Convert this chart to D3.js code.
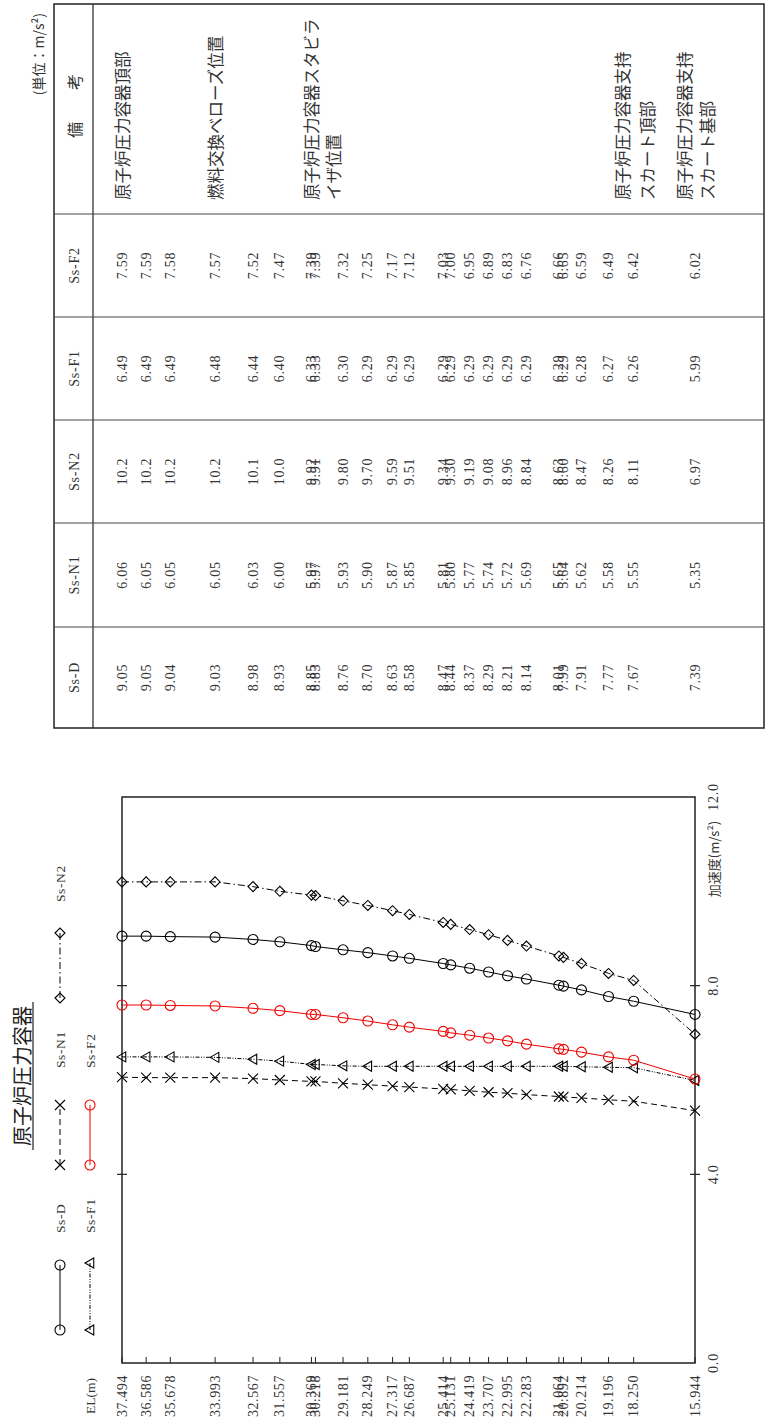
<!DOCTYPE html>
<html><head><meta charset="utf-8">
<script src="https://cdn.jsdelivr.net/npm/d3@7"></script>
<style>body{margin:0;background:#fff}</style>
</head><body>
<svg id="c" width="765" height="1425"></svg>
<script>
// ---------- data ----------
const elevations = [37.494, 36.586, 35.678, 33.993, 32.567, 31.557, 30.369, 30.218, 29.181, 28.249, 27.317, 26.687, 25.414, 25.131, 24.419, 23.707, 22.995, 22.283, 21.064, 20.892, 20.214, 19.196, 18.250, 15.944];
const elLabels = ["37.494","36.586","35.678","33.993","32.567","31.557","30.369","30.218","29.181","28.249","27.317","26.687","25.414","25.131","24.419","23.707","22.995","22.283","21.064","20.892","20.214","19.196","18.250","15.944"];
const seriesNames = ["Ss-D", "Ss-N1", "Ss-N2", "Ss-F1", "Ss-F2"];
const ssD  = [9.05, 9.05, 9.04, 9.03, 8.98, 8.93, 8.85, 8.83, 8.76, 8.70, 8.63, 8.58, 8.47, 8.44, 8.37, 8.29, 8.21, 8.14, 8.01, 7.99, 7.91, 7.77, 7.67, 7.39];
const ssN1 = [6.06, 6.05, 6.05, 6.05, 6.03, 6.00, 5.97, 5.97, 5.93, 5.90, 5.87, 5.85, 5.81, 5.80, 5.77, 5.74, 5.72, 5.69, 5.65, 5.64, 5.62, 5.58, 5.55, 5.35];
const ssN2 = [10.2, 10.2, 10.2, 10.2, 10.1, 10.0, 9.92, 9.91, 9.80, 9.70, 9.59, 9.51, 9.34, 9.30, 9.19, 9.08, 8.96, 8.84, 8.63, 8.60, 8.47, 8.26, 8.11, 6.97];
const ssF1 = [6.49, 6.49, 6.49, 6.48, 6.44, 6.40, 6.33, 6.33, 6.30, 6.29, 6.29, 6.29, 6.29, 6.29, 6.29, 6.29, 6.29, 6.29, 6.29, 6.29, 6.28, 6.27, 6.26, 5.99];
const ssF2 = [7.59, 7.59, 7.58, 7.57, 7.52, 7.47, 7.39, 7.39, 7.32, 7.25, 7.17, 7.12, 7.03, 7.00, 6.95, 6.89, 6.83, 6.76, 6.66, 6.65, 6.59, 6.49, 6.42, 6.02];
const accTicks = [0, 4, 8, 12];
const accTickLabels = ["0.0", "4.0", "8.0", "12.0"];
const remarkEL = [37.494, 33.993, 30.369, 18.250, 15.944];
const remarkText = [["原子炉圧力容器頂部"], ["燃料交換ベローズ位置"], ["原子炉圧力容器スタビラ", "イザ位置"], ["原子炉圧力容器支持", "スカート頂部"], ["原子炉圧力容器支持", "スカート基部"]];
const titleText = "原子炉圧力容器";
const unitText = "(単位：m/s²)";

// ---------- styles ----------
const seriesValues = [ssD, ssN1, ssN2, ssF1, ssF2];
const styles = {
  "Ss-D":  {color: "#000", dash: null, marker: "circle"},
  "Ss-N1": {color: "#000", dash: "6,4", marker: "times"},
  "Ss-N2": {color: "#000", dash: "7,3,1.5,3", marker: "diamond"},
  "Ss-F1": {color: "#000", dash: "4,1.5,1,1.5,1,1.5", marker: "triangle"},
  "Ss-F2": {color: "#e00", dash: null, marker: "circle"}
};
const numFont = "'Liberation Serif','DejaVu Serif','Noto Sans CJK JP',serif";
const jpFont = "'Noto Sans CJK JP','Liberation Serif',serif";

function markerPath(type) {
  const r = 5;
  if (type === "circle") return d3.symbol(d3.symbolCircle, Math.PI * r * r)();
  if (type === "times") return `M${-r},${-r}L${r},${r}M${-r},${r}L${r},${-r}`;
  if (type === "diamond") return `M0,${-r}L${r},0L0,${r}L${-r},0Z`;
  if (type === "triangle") return `M0,${-r}L${r},${r*0.75}L${-r},${r*0.75}Z`;
}

const svg = d3.select("#c");
// landscape drawing frame rotated into portrait
const g = svg.append("g").attr("transform", "translate(0,1425) rotate(-90)");

// ---------- scales ----------
const x = d3.scaleLinear().domain([0, 12]).range([62, 628]);
const y = d3.scaleLinear().domain([37.494, 15.944]).range([122, 695]);
const fmt = v => v >= 10 ? v.toFixed(1) : v.toFixed(2);

// ---------- chart frame ----------
g.append("rect").attr("x", x(0)).attr("y", y.range()[0])
  .attr("width", x(12) - x(0)).attr("height", y.range()[1] - y.range()[0])
  .attr("fill", "none").attr("stroke", "#222").attr("stroke-width", 1.5);

[4, 8].forEach(t => {
  [y.range()[0], y.range()[1]].forEach(yy => {
    g.append("line").attr("x1", x(t)).attr("x2", x(t)).attr("y1", yy - 5).attr("y2", yy + 5)
      .attr("stroke", "#222").attr("stroke-width", 1.2);
  });
});
g.selectAll(".acclab").data(accTicks).enter().append("text")
  .attr("x", d => x(d)).attr("y", 713).attr("text-anchor", "middle")
  .attr("dominant-baseline", "central").attr("font-family", numFont)
  .attr("font-size", 14).attr("letter-spacing", 0.8).attr("fill", "#333")
  .text((d, i) => accTickLabels[i]);
g.append("text").attr("x", 566).attr("y", 713).attr("text-anchor", "middle")
  .attr("dominant-baseline", "central").attr("font-family", jpFont)
  .attr("font-size", 13).attr("fill", "#333").text("加速度(m/s²)");

// EL ticks and labels
g.selectAll(".eltick").data(elevations).enter().append("line")
  .attr("x1", x(0)).attr("x2", x(0) + 6).attr("y1", d => y(d)).attr("y2", d => y(d))
  .attr("stroke", "#222").attr("stroke-width", 1);
g.selectAll(".ellab").data(elevations).enter().append("text")
  .attr("x", 50).attr("y", d => y(d)).attr("text-anchor", "end")
  .attr("dominant-baseline", "central").attr("font-family", numFont)
  .attr("font-size", 14).attr("letter-spacing", 0.6).attr("fill", "#333")
  .text((d, i) => elLabels[i]);
g.append("text").attr("x", 29).attr("y", 90).attr("text-anchor", "middle")
  .attr("dominant-baseline", "central").attr("font-family", numFont)
  .attr("font-size", 13.5).attr("fill", "#333").text("EL(m)");

// ---------- series ----------
seriesNames.forEach((name, si) => {
  const st = styles[name];
  const vals = seriesValues[si];
  const pts = elevations.map((e, i) => [x(vals[i]), y(e)]);
  g.append("path").attr("d", d3.line()(pts)).attr("fill", "none")
    .attr("stroke", st.color).attr("stroke-width", 1)
    .attr("stroke-dasharray", st.dash);
  g.selectAll(null).data(pts).enter().append("path")
    .attr("transform", d => `translate(${d[0]},${d[1]})`)
    .attr("d", markerPath(st.marker)).attr("fill", "none")
    .attr("stroke", st.color).attr("stroke-width", 1.1);
});

// ---------- title ----------
g.append("text").attr("x", 349).attr("y", 30).attr("text-anchor", "middle")
  .attr("font-family", jpFont).attr("font-size", 20).attr("fill", "#222").text(titleText);
g.append("line").attr("x1", 275).attr("x2", 423).attr("y1", 33).attr("y2", 33)
  .attr("stroke", "#222").attr("stroke-width", 1.2);

// ---------- legend ----------
const legendPos = [
  {x1: 95, x2: 160, y: 60, lx: 192},
  {x1: 260, x2: 320, y: 60, lx: 357},
  {x1: 427, x2: 492, y: 60, lx: 523},
  {x1: 95, x2: 162, y: 90, lx: 192},
  {x1: 260, x2: 320, y: 90, lx: 357}
];
seriesNames.forEach((name, i) => {
  const st = styles[name], p = legendPos[i];
  g.append("line").attr("x1", p.x1).attr("x2", p.x2).attr("y1", p.y).attr("y2", p.y)
    .attr("stroke", st.color).attr("stroke-width", 1).attr("stroke-dasharray", st.dash);
  [p.x1, p.x2].forEach(xx => g.append("path").attr("transform", `translate(${xx},${p.y})`)
    .attr("d", markerPath(st.marker)).attr("fill", "none").attr("stroke", st.color).attr("stroke-width", 1.1));
  g.append("text").attr("x", p.lx).attr("y", p.y).attr("dominant-baseline", "central")
    .attr("font-family", numFont).attr("font-size", 13.5).attr("letter-spacing", 0.6)
    .attr("fill", "#333").text(name);
});

// ---------- table ----------
const colEdges = [697, 798, 902, 1005, 1108, 1211, 1421];
const tTop = 54, tHead = 93, tBottom = 764;
g.append("rect").attr("x", colEdges[0]).attr("y", tTop)
  .attr("width", colEdges[6] - colEdges[0]).attr("height", tBottom - tTop)
  .attr("fill", "none").attr("stroke", "#222").attr("stroke-width", 1.5);
g.append("line").attr("x1", colEdges[0]).attr("x2", colEdges[6]).attr("y1", tHead).attr("y2", tHead)
  .attr("stroke", "#222").attr("stroke-width", 1.2);
colEdges.slice(1, 6).forEach(cx => g.append("line").attr("x1", cx).attr("x2", cx)
  .attr("y1", tTop).attr("y2", tBottom).attr("stroke", "#444").attr("stroke-width", 1));

g.append("text").attr("x", 1412).attr("y", 38).attr("text-anchor", "end")
  .attr("dominant-baseline", "central").attr("font-family", jpFont)
  .attr("font-size", 14).attr("fill", "#333").text(unitText);

seriesNames.forEach((name, ci) => {
  const cx = (colEdges[ci] + colEdges[ci + 1]) / 2;
  g.append("text").attr("x", cx).attr("y", 74).attr("text-anchor", "middle")
    .attr("dominant-baseline", "central").attr("font-family", numFont)
    .attr("font-size", 14).attr("letter-spacing", 0.8).attr("fill", "#333").text(name);
  g.selectAll(null).data(seriesValues[ci]).enter().append("text")
    .attr("x", cx).attr("y", (d, i) => y(elevations[i])).attr("text-anchor", "middle")
    .attr("dominant-baseline", "central").attr("font-family", numFont)
    .attr("font-size", 14).attr("letter-spacing", 0.8).attr("fill", "#333").text(d => fmt(d));
});
g.append("text").attr("x", 1295).attr("y", 74).attr("text-anchor", "middle")
  .attr("dominant-baseline", "central").attr("font-family", jpFont)
  .attr("font-size", 16).attr("fill", "#333").text("備");
g.append("text").attr("x", 1343).attr("y", 74).attr("text-anchor", "middle")
  .attr("dominant-baseline", "central").attr("font-family", jpFont)
  .attr("font-size", 16).attr("fill", "#333").text("考");

const remarkOffsets = [[0], [0], [0, 22], [-12, 13], [-11, 12]];
remarkEL.forEach((e, i) => {
  remarkText[i].forEach((line, j) => {
    g.append("text").attr("x", 1225).attr("y", y(e) + remarkOffsets[i][j])
      .attr("dominant-baseline", "central").attr("font-family", jpFont)
      .attr("font-size", 16.5).attr("fill", "#333").text(line);
  });
});
</script>
</body></html>
